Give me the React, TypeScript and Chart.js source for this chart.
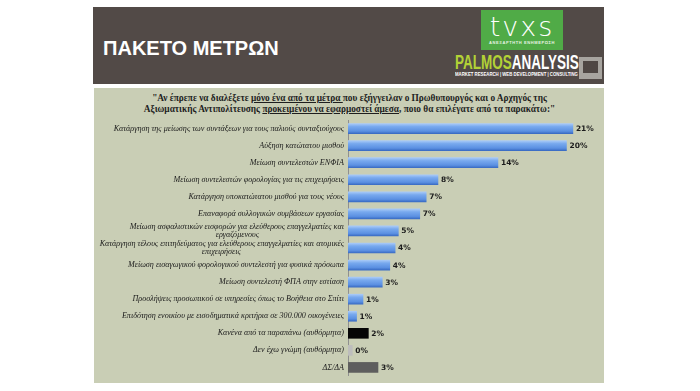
import React, { useEffect, useRef } from "react";
import { Chart, registerables } from "chart.js";

Chart.register(...registerables);

const categories: (string | string[])[] = [
  "Κατάργηση της μείωσης των συντάξεων για τους παλιούς συνταξιούχους",
  "Αύξηση κατώτατου μισθού",
  "Μείωση συντελεστών ΕΝΦΙΑ",
  "Μείωση συντελεστών φορολογίας για τις επιχειρήσεις",
  "Κατάργηση υποκατώτατου μισθού για τους νέους",
  "Επαναφορά συλλογικών συμβάσεων εργασίας",
  ["Μείωση ασφαλιστικών εισφορών για ελεύθερους επαγγελματίες και", "εργαζόμενους"],
  ["Κατάργηση τέλους επιτηδεύματος για ελεύθερους επαγγελματίες και ατομικές", "επιχειρήσεις"],
  "Μείωση εισαγωγικού φορολογικού συντελεστή για φυσικά πρόσωπα",
  "Μείωση συντελεστή ΦΠΑ στην εστίαση",
  "Προσλήψεις προσωπικού σε υπηρεσίες όπως το Βοήθεια στο Σπίτι",
  "Επιδότηση ενοικίου με εισοδηματικά κριτήρια σε 300.000 οικογένειες",
  "Κανένα από τα παραπάνω (αυθόρμητα)",
  "Δεν έχω γνώμη (αυθόρμητα)",
  "ΔΣ/ΔΑ",
];

const values: number[] = [21.0, 20.4, 14.0, 8.4, 7.3, 6.7, 4.7, 4.4, 3.9, 3.2, 1.4, 0.8, 1.9, 0.4, 2.8];

const barKinds: string[] = [
  "blue", "blue", "blue", "blue", "blue", "blue", "blue", "blue", "blue", "blue", "blue", "blue",
  "black", "light", "dark",
];

const axisMax = 24;

const kindColor: Record<string, string> = {
  blue: "#6a9fe8",
  black: "#050505",
  light: "#bdbdbd",
  dark: "#5e5e5e",
};

const tickFont = { family: "'Liberation Serif', serif", style: "italic" as const, size: 8.1, lineHeight: 1.0 };

function centerSecondLines(labels: (string | string[])[]): (string | string[])[] {
  const c = document.createElement("canvas").getContext("2d");
  if (!c) return labels;
  c.font = `italic ${tickFont.size}px 'Liberation Serif', serif`;
  const sp = c.measureText("\u00A0").width || 2;
  return labels.map((l) => {
    if (!Array.isArray(l)) return l;
    const w0 = c.measureText(l[0]).width;
    return l.map((line, i) => {
      if (i === 0) return line;
      const w = c.measureText(line).width;
      const n = Math.max(0, Math.round((w0 - w) / 2 / sp));
      return line + "\u00A0".repeat(n);
    });
  });
}

const barStylePlugin = {
  id: "barStyle",
  beforeDatasetsDraw(chart: any) {
    const meta = chart.getDatasetMeta(0);
    const ctx = chart.ctx as CanvasRenderingContext2D;
    meta.data.forEach((el: any, i: number) => {
      if (barKinds[i] !== "blue") return;
      const { y, height } = el.getProps(["y", "height"], true);
      const g = ctx.createLinearGradient(0, y - height / 2, 0, y + height / 2);
      g.addColorStop(0, "#a9caf7");
      g.addColorStop(0.3, "#78a9ee");
      g.addColorStop(0.75, "#5b90e2");
      g.addColorStop(1, "#3a6cc4");
      el.options.backgroundColor = g;
    });
  },
  afterDatasetsDraw(chart: any) {
    const meta = chart.getDatasetMeta(0);
    const ctx = chart.ctx as CanvasRenderingContext2D;
    ctx.save();
    ctx.font = "bold 7.5px 'DejaVu Sans', sans-serif";
    ctx.fillStyle = "#1c1c1c";
    ctx.textAlign = "left";
    ctx.textBaseline = "middle";
    meta.data.forEach((el: any, i: number) => {
      const { x, y } = el.getProps(["x", "y"], true);
      ctx.fillText(Math.round(values[i]) + "%", x + 3, y + 0.5);
    });
    ctx.restore();
  },
};

function ChartBox() {
  const ref = useRef<HTMLCanvasElement | null>(null);
  useEffect(() => {
    if (!ref.current) return;
    const labels = centerSecondLines(categories);
    const chart = new Chart(ref.current, {
      type: "bar",
      data: {
        labels,
        datasets: [
          {
            data: values,
            backgroundColor: barKinds.map((k) => kindColor[k]),
            borderWidth: 0,
            barThickness: 10,
          },
        ],
      },
      options: {
        indexAxis: "y",
        animation: false,
        responsive: false,
        maintainAspectRatio: false,
        devicePixelRatio: 1,
        layout: { padding: { top: 3, bottom: 1, left: 0, right: 0 } },
        plugins: { legend: { display: false }, tooltip: { enabled: false }, title: { display: false } },
        scales: {
          x: { display: false, min: 0, max: axisMax },
          y: {
            afterFit: (scale: any) => {
              scale.width = 254;
            },
            grid: { display: true, color: "rgba(0,0,0,0)", drawTicks: false },
            border: { display: true, color: "#8f8f8f", width: 1 },
            ticks: {
              autoSkip: false,
              padding: 4,
              color: "#1a1a1a",
              font: tickFont,
            },
          },
        },
      },
      plugins: [barStylePlugin],
    });
    return () => chart.destroy();
  }, []);
  return (
    <canvas
      ref={ref}
      width={511}
      height={272}
      style={{ position: "absolute", left: 94, top: 112, width: 511, height: 272 }}
    />
  );
}

export default function App() {
  return (
    <div style={{ position: "fixed", left: 0, top: 0, width: 700, height: 391, background: "#ffffff", overflow: "hidden" }}>
      {/* header band */}
      <div style={{ position: "absolute", left: 93, top: 7, width: 511, height: 77, background: "#524a47" }} />
      <div
        style={{
          position: "absolute",
          left: 103,
          top: 38,
          fontFamily: "'Liberation Sans', Arial, sans-serif",
          fontWeight: "bold",
          fontSize: 20,
          lineHeight: "20px",
          color: "#ffffff",
          whiteSpace: "nowrap",
        }}
      >
        ΠΑΚΕΤΟ ΜΕΤΡΩΝ
      </div>
      {/* tvxs logo */}
      <div style={{ position: "absolute", left: 481, top: 10, width: 82, height: 40, background: "#50ab47" }}>
        <div
          style={{
            position: "absolute",
            left: 0,
            top: 3,
            width: 82,
            textAlign: "center",
            fontFamily: "'DejaVu Sans', sans-serif",
            fontWeight: 200,
            fontSize: 27,
            lineHeight: "28px",
            letterSpacing: 2,
            color: "#ffffff",
          }}
        >
          tvxs
        </div>
        <div
          style={{
            position: "absolute",
            left: 0,
            top: 30,
            width: 82,
            textAlign: "center",
            fontFamily: "'Liberation Sans', sans-serif",
            fontWeight: "bold",
            fontSize: 4,
            lineHeight: "5px",
            letterSpacing: 0.6,
            color: "#e8f3e4",
            whiteSpace: "nowrap",
          }}
        >
          ΑΝΕΞΑΡΤΗΤΗ ΕΝΗΜΕΡΩΣΗ
        </div>
      </div>
      {/* palmos analysis logo */}
      <div
        style={{
          position: "absolute",
          left: 455,
          top: 52,
          fontFamily: "'Liberation Sans', sans-serif",
          fontWeight: "bold",
          fontSize: 20,
          lineHeight: "20px",
          whiteSpace: "nowrap",
          transform: "scaleX(0.675)",
          transformOrigin: "left top",
        }}
      >
        <span style={{ color: "#b3d236" }}>PALMOS</span>
        <span style={{ color: "#ffffff" }}>ANALYSIS</span>
      </div>
      <div
        style={{
          position: "absolute",
          left: 455,
          top: 72,
          fontFamily: "'Liberation Sans', sans-serif",
          fontWeight: "bold",
          fontSize: 5,
          lineHeight: "5px",
          color: "#ffffff",
          whiteSpace: "nowrap",
          transform: "scaleX(0.86)",
          transformOrigin: "left top",
        }}
      >
        MARKET RESEARCH | WEB DEVELOPMENT | CONSULTING
      </div>
      <div style={{ position: "absolute", left: 579, top: 57, width: 23, height: 22, background: "#a7a49f" }}>
        <div style={{ position: "absolute", left: 4, top: 4, width: 15, height: 12, background: "#4f4744" }} />
      </div>
      {/* chart panel */}
      <div style={{ position: "absolute", left: 94, top: 88, width: 510, height: 295, background: "#c9ceb5" }} />
      <div
        style={{
          position: "absolute",
          left: 94,
          top: 93,
          width: 511,
          textAlign: "center",
          fontFamily: "'Liberation Serif', serif",
          fontWeight: "bold",
          fontSize: 9.3,
          lineHeight: "11px",
          color: "#1e1e1e",
        }}
      >
        "Αν έπρεπε να διαλέξετε <u>μόνο ένα από τα μέτρα </u>που εξήγγειλαν ο Πρωθυπουργός και ο Αρχηγός της
        <br />
        Αξιωματικής Αντιπολίτευσης <u>προκειμένου να εφαρμοστεί άμεσα</u>, ποιο θα επιλέγατε από τα παρακάτω:"
      </div>
      <ChartBox />
    </div>
  );
}
